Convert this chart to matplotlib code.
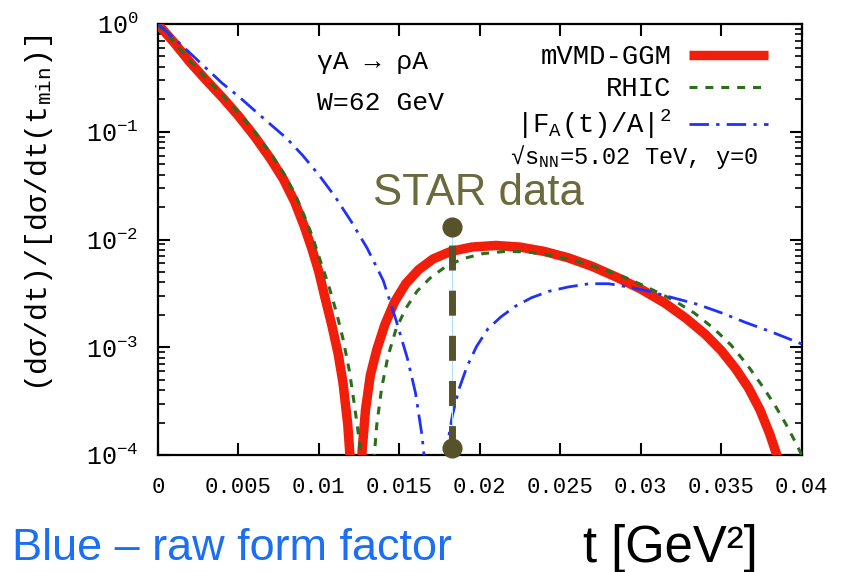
import matplotlib
matplotlib.use('Agg')
import matplotlib.pyplot as plt
from matplotlib.ticker import LogLocator, LogFormatterMathtext, NullFormatter

plt.rcParams['font.family'] = ['Liberation Mono', 'DejaVu Sans Mono']
plt.rcParams['mathtext.fontset'] = 'custom'
plt.rcParams['mathtext.rm'] = 'Liberation Mono'
plt.rcParams['mathtext.it'] = 'Liberation Mono'
plt.rcParams['mathtext.bf'] = 'Liberation Mono:bold'

# mVMD-GGM (red)
t_red = [0.0, 0.001, 0.002, 0.003, 0.004, 0.005, 0.006, 0.007, 0.0078, 0.0085,
         0.0091, 0.0096, 0.0100, 0.0104, 0.0108, 0.0112, 0.0115, 0.0118, 0.0120, 0.01225,
         0.01245, 0.0127, 0.0129, 0.0132, 0.0136, 0.0141, 0.0147, 0.0154, 0.0162, 0.0171,
         0.0182, 0.0195, 0.0210, 0.0225, 0.0240, 0.0255, 0.0270, 0.0285, 0.0300, 0.0315,
         0.0328, 0.0340, 0.0350, 0.0359, 0.0367, 0.0374, 0.0380, 0.0385, 0.0389]
y_red = [1.0, 0.676, 0.442, 0.302, 0.209, 0.141, 0.0912, 0.0562, 0.0363, 0.0224,
         0.0132, 0.00794, 0.00501, 0.00282, 0.00162, 8.7e-4, 4.7e-4, 1.9e-4, 7.1e-5, 3.2e-6,
         2.5e-5, 1.15e-4, 2.63e-4, 5.5e-4, 9.5e-4, 1.62e-3, 2.63e-3, 3.89e-3, 5.25e-3, 6.61e-3,
         7.76e-3, 8.51e-3, 8.81e-3, 8.51e-3, 7.76e-3, 6.76e-3, 5.62e-3, 4.47e-3, 3.47e-3, 2.57e-3,
         1.86e-3, 1.32e-3, 9.3e-4, 6.3e-4, 4.17e-4, 2.63e-4, 1.58e-4, 9.5e-5, 5.6e-5]

# RHIC (green)
t_green = [0.0, 0.001, 0.002, 0.003, 0.004, 0.005, 0.006, 0.007, 0.0078, 0.0085,
           0.0091, 0.0096, 0.0101, 0.0106, 0.0111, 0.0115, 0.0119, 0.0122, 0.0125, 0.0127,
           0.0130, 0.0133, 0.0134, 0.0136, 0.0139, 0.0143, 0.0148, 0.0154, 0.0161, 0.0169,
           0.0178, 0.0189, 0.0202, 0.0216, 0.0230, 0.0245, 0.0260, 0.0275, 0.0290, 0.0305,
           0.0320, 0.0333, 0.0345, 0.0356, 0.0366, 0.0375, 0.0383, 0.0390, 0.0396, 0.0401]
y_green = [1.0, 0.684, 0.452, 0.313, 0.219, 0.151, 0.1, 0.0631, 0.0417, 0.0269,
           0.0166, 0.0107, 0.00631, 0.0038, 0.00209, 0.0012, 6.0e-4, 3.0e-4, 1.41e-4, 7.1e-5,
           3.2e-6, 4.0e-5, 8.3e-5, 1.9e-4, 4.17e-4, 8.3e-4, 1.48e-3, 2.29e-3, 3.31e-3, 4.37e-3,
           5.5e-3, 6.61e-3, 7.41e-3, 7.76e-3, 7.67e-3, 7.08e-3, 6.31e-3, 5.37e-3, 4.47e-3, 3.55e-3,
           2.75e-3, 2.09e-3, 1.51e-3, 1.05e-3, 6.9e-4, 4.47e-4, 2.95e-4, 1.95e-4, 1.32e-4, 9.3e-5]

# |F_A(t)/A|^2 (blue)
t_blue = [0.0, 0.001, 0.002, 0.003, 0.004, 0.005, 0.006, 0.007, 0.008, 0.009,
          0.010, 0.011, 0.012, 0.013, 0.014, 0.0148, 0.0155, 0.0160, 0.0164, 0.0167,
          0.0172, 0.0177, 0.0180, 0.0183, 0.0187, 0.0192, 0.0198, 0.0205, 0.0213,
          0.0222, 0.0232, 0.0243, 0.0255, 0.0268, 0.0280, 0.0292, 0.0305, 0.0320,
          0.0335, 0.0350, 0.0365, 0.0380, 0.0395, 0.0400]
y_blue = [1.0, 0.741, 0.537, 0.389, 0.282, 0.214, 0.158, 0.117, 0.0871, 0.0603,
          0.0398, 0.0251, 0.0148, 0.00832, 0.00417, 0.00178, 7.9e-4, 3.8e-4, 1.55e-4, 5.9e-5,
          3.2e-6, 5.0e-5, 1.29e-4, 2.34e-4, 4.07e-4, 6.6e-4, 1.02e-3, 1.48e-3, 1.91e-3,
          2.40e-3, 2.88e-3, 3.31e-3, 3.63e-3, 3.89e-3, 3.89e-3, 3.63e-3, 3.31e-3, 2.88e-3,
          2.51e-3, 2.09e-3, 1.70e-3, 1.41e-3, 1.15e-3, 1.07e-3]

# STAR data marker (range)
t_star = [0.0183, 0.0183]
y_star = [0.013, 1.15e-4]

xticks = [0, 0.005, 0.01, 0.015, 0.02, 0.025, 0.03, 0.035, 0.04]
xticklabels = ['0', '0.005', '0.01', '0.015', '0.02', '0.025', '0.03', '0.035', '0.04']

fig = plt.figure(figsize=(8.44, 5.72), dpi=100)
ax = fig.add_axes([0.187, 0.2045, 0.763, 0.7535])

ax.plot(t_red, y_red, color='#f01e0a', lw=6.8, solid_capstyle='butt', solid_joinstyle='round',
        label='mVMD-GGM', zorder=3)
ax.plot(t_green, y_green, color='#2a6e1e', lw=2.2, dashes=(2.6, 2.6), label='RHIC', zorder=4)
ax.plot(t_blue, y_blue, color='#2032f5', lw=2, dashes=(7, 2.6, 1.2, 2.6),
        label=r'|F$_{\mathrm{A}}$(t)/A|$^{2}$', zorder=5)

# STAR data
ax.plot(t_star, y_star, color='#aee0f8', lw=0.8, zorder=6)
ax.plot(t_star, y_star, color='#57522a', lw=5, linestyle=(3.9, (3.6, 2.9)), zorder=7)
ax.plot(t_star, y_star, 'o', color='#57522a', ms=13.5, zorder=8, clip_on=False)

ax.set_yscale('log')
ax.set_xlim(0, 0.04)
ax.set_ylim(1e-4, 1)
ax.set_xticks(xticks)
ax.set_xticklabels(xticklabels)
ax.yaxis.set_major_locator(LogLocator(base=10, numticks=10))
ax.yaxis.set_major_formatter(LogFormatterMathtext())
ax.yaxis.set_minor_locator(LogLocator(base=10, subs=range(2, 10), numticks=20))
ax.yaxis.set_minor_formatter(NullFormatter())

for s in ax.spines.values():
    s.set_linewidth(1.6)
ax.tick_params(which='major', direction='in', length=8.5, width=1.5, top=True, right=True)
ax.tick_params(which='minor', direction='in', length=5, width=1.2, right=True)
ax.tick_params(axis='x', labelsize=16, pad=16)
ax.tick_params(axis='y', labelsize=18, pad=14)

ax.set_ylabel(r'(d$\sigma$/dt)/[d$\sigma$/dt(t$_{\mathrm{min}}$)]', fontsize=21.5)
ax.yaxis.set_label_coords(-0.16, 0.56)

ax.legend(loc='upper right', bbox_to_anchor=(0.947, 0.953), frameon=False,
          markerfirst=False, fontsize=19.6, handlelength=2.9, handletextpad=0.62,
          borderpad=0, borderaxespad=0, labelspacing=0.22)

ax.text(0.247, 0.912, 'γA → ρA', transform=ax.transAxes, fontsize=19, va='center', ha='left')
ax.text(0.247, 0.817, 'W=62 GeV', transform=ax.transAxes, fontsize=19, va='center', ha='left')
ax.text(0.547, 0.691, r'√s$_{\mathrm{NN}}$=5.02 TeV, y=0', transform=ax.transAxes,
        fontsize=17, va='center', ha='left')

fig.text(373 / 844, 1 - 205 / 572, 'STAR data', fontsize=31.5, color='#6b6a3c',
         family=['Liberation Sans', 'DejaVu Sans'], va='baseline', ha='left')
fig.text(12 / 844, 1 - 560 / 572, 'Blue – raw form factor', fontsize=32.4, color='#1a6ff2',
         family=['Liberation Sans', 'DejaVu Sans'], va='baseline', ha='left')
fig.text(583 / 844, 1 - 562 / 572, 't [GeV²]', fontsize=36.5, color='black',
         family=['Liberation Sans', 'DejaVu Sans'], va='baseline', ha='left')

fig.savefig('out.png', dpi=100)
